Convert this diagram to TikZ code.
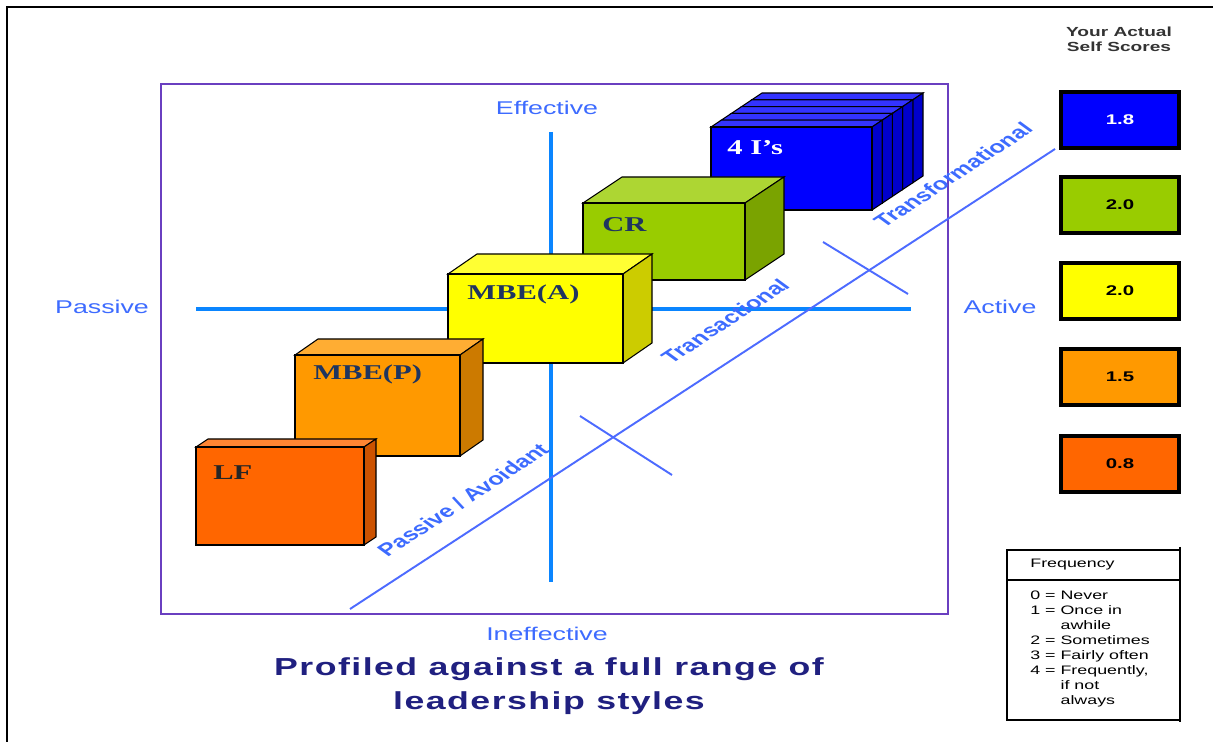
\documentclass[tikz,border=0pt]{standalone}
\usepackage{fontspec}
\setmainfont{Liberation Serif}[FakeStretch=1.45]
\setsansfont{Liberation Sans}[FakeStretch=1.45]
\newfontfamily\diagfont{Liberation Sans}
\usepackage{xcolor}
\usetikzlibrary{positioning}

\definecolor{axisblue}{HTML}{0A85FF}
\definecolor{labelblue}{HTML}{3D6BFF}
\definecolor{diagblue}{HTML}{4D6BFF}
\definecolor{framepurple}{HTML}{6A3FC0}
\definecolor{titlenavy}{HTML}{202080}
\definecolor{cubetext}{HTML}{1F3560}
\definecolor{lfcol}{HTML}{FF6600}
\definecolor{mbepcol}{HTML}{FF9900}
\definecolor{mbeacol}{HTML}{FFFF00}
\definecolor{crcol}{HTML}{99CC00}
\definecolor{fouricol}{HTML}{0000FF}

\begin{document}
\begin{tikzpicture}[x=0.02cm, y=-0.02cm,
    face/.style = {draw=black, line width=0.6pt},
    axisline/.style = {draw=axisblue, line width=1.9pt},
    diagline/.style = {draw=diagblue, line width=1.1pt},
    axislabel/.style = {text=labelblue, font=\sffamily\fontsize{10.5}{12}\selectfont},
    diaglabel/.style = {text=labelblue, font=\diagfont\bfseries\fontsize{10}{12}\selectfont,
                        rotate=43.4, transform shape},
    cubelabel/.style = {anchor=base west, inner sep=0pt, text=cubetext,
                        font=\rmfamily\bfseries\fontsize{12}{14}\selectfont},
    score/.style = {draw=black, line width=2.2pt, minimum width=2.35cm, minimum height=1.11cm,
                    font=\sffamily\bfseries\fontsize{8}{10}\selectfont}]

  \useasboundingbox (0,0) rectangle (1213,742);

  % frames
  \draw[line width=1.1pt] (7,742) -- (7,7) -- (1213,7);
  \draw[framepurple, line width=1.1pt] (161,84) rectangle (948,614);

  % axes
  \draw[axisline] (551,132) -- (551,582);
  \draw[axisline] (196,309) -- (911,309);
  \node (eff)   [axislabel] at (547,108) {Effective};
  \node (ineff) [axislabel] at (547,634) {Ineffective};
  \node (pas)   [axislabel] at (102,307) {Passive};
  \node (act)   [axislabel] at (1000,307) {Active};

  % full range line
  \draw[diagline] (350,609) -- (1055,149);
  \draw[diagline] (580,416) -- (672,475);
  \draw[diagline] (823,242) -- (908,294);
  \begin{scope}[xscale=1.45]
    \node (pa)  [diaglabel] at ({463/1.45},500) {Passive / Avoidant};
    \node (tac) [diaglabel] at ({725/1.45},321) {Transactional};
    \node (tfm) [diaglabel] at ({953/1.45},175) {Transformational};
  \end{scope}

  % boxes, back to front
  \foreach \xa/\ya/\xb/\yb/\dx/\dy/\n/\c in
      {711/127/872/210/10.2/-6.8/5/fouricol,
       583/203/745/280/39/-26/1/crcol,
       448/274/623/363/29/-20/1/mbeacol,
       295/355/460/456/23/-16/1/mbepcol,
       196/447/364/545/12/-8/1/lfcol}
    \foreach \k in {\n,...,1} {
      \pgfmathsetmacro\sx{(\k-1)*\dx}
      \pgfmathsetmacro\sy{(\k-1)*\dy}
      \begin{scope}[shift={(\sx,\sy)}]
        \filldraw[face, fill=\c!80!white] (\xa,\ya) -- ++(\dx,\dy) -- (\xb+\dx,\ya+\dy) -- (\xb,\ya) -- cycle;
        \filldraw[face, fill=\c!80!black] (\xb,\ya) -- ++(\dx,\dy) -- (\xb+\dx,\yb+\dy) -- (\xb,\yb) -- cycle;
        \filldraw[face, fill=\c] (\xa,\ya) rectangle (\xb,\yb);
      \end{scope}
    }

  \node (fouri) [cubelabel, text=white] at (727,155) {4 I’s};
  \node (cr)    [cubelabel] at (602,232) {CR};
  \node (mbea)  [cubelabel] at (467,300) {MBE(A)};
  \node (mbep)  [cubelabel] at (313,380) {MBE(P)};
  \node (lf)    [cubelabel, text=black!85] at (213,480) {LF};

  % self scores
  \node (yas) [align=center, text=black!80, font=\sffamily\bfseries\fontsize{7.5}{8.5}\selectfont]
    at (1119,39) {Your Actual\\Self Scores};
  \node (s1) [score, fill=fouricol, text=white] at (1120,120) {1.8};
  \node (s2) [score, fill=crcol]   at (1120,205) {2.0};
  \node (s3) [score, fill=mbeacol] at (1120,291) {2.0};
  \node (s4) [score, fill=mbepcol] at (1120,377) {1.5};
  \node (s5) [score, fill=lfcol]   at (1120,464) {0.8};

  % frequency key
  \draw[line width=0.7pt] (1007,550) rectangle (1180,720);
  \draw[line width=0.7pt] (1007,580) -- (1180,580);
  \draw[line width=1.6pt] (1180,547) -- (1180,722);
  \node (fq) [anchor=west, inner sep=0pt, font=\sffamily\fontsize{7}{8.5}\selectfont]
    at (1030,565) {Frequency};
  \node (fqlist) [anchor=north west, inner sep=0pt, font=\sffamily\fontsize{7}{8.5}\selectfont]
    at (1030,589) {\begin{tabular}{@{}l@{\ }l@{}}
      0 = & Never\\
      1 = & Once in\\
          & awhile\\
      2 = & Sometimes\\
      3 = & Fairly often\\
      4 = & Frequently,\\
          & if not\\
          & always
    \end{tabular}};

  % title
  \node (title) [align=center, text=titlenavy,
                 font=\sffamily\bfseries\fontsize{14}{19.5}\selectfont\addfontfeature{LetterSpace=6}]
    at (549,686) {Profiled against a full range of\\leadership styles};
\end{tikzpicture}
\end{document}
